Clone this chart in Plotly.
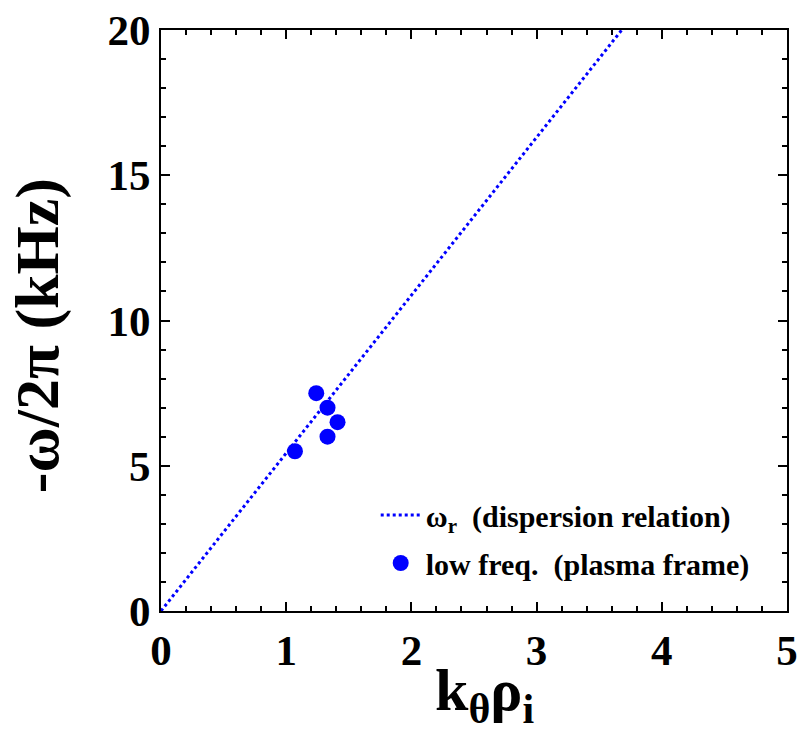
import numpy as np
import plotly.graph_objects as go

# Measured low-frequency mode in the plasma frame
k_rho = [1.07, 1.24, 1.33, 1.41, 1.33]
freq_khz = [5.5, 7.5, 7.0, 6.5, 6.0]

# Linear dispersion relation: omega_r/2pi vs k_theta rho_i
disp_k = [0.0, 3.68]
disp_f = [0.0, 20.0]

x_ticks = [0, 1, 2, 3, 4, 5]
y_ticks = [0, 5, 10, 15, 20]

FONT = "Liberation Serif"
BLUE = "#0000ff"

fig = go.Figure()
fig.add_trace(go.Scatter(
    x=disp_k, y=disp_f, mode="lines",
    line=dict(color=BLUE, width=3, dash="dot"),
    name="<b>ω<sub>r</sub>  (dispersion relation)</b>",
    legendgroup="a",
))
fig.add_trace(go.Scatter(
    x=k_rho, y=freq_khz, mode="markers",
    marker=dict(color=BLUE, size=16, line=dict(width=0)),
    name="<b>low freq.  (plasma frame)</b>",
    legendgroup="b",
))

axis_common = dict(
    showline=True, linecolor="black", linewidth=2, mirror="allticks",
    ticks="inside", ticklen=9, tickwidth=2, tickcolor="black",
    showgrid=False, zeroline=False, automargin=False,
    tickfont=dict(family=FONT, size=43, color="black"),
)

fig.update_xaxes(
    range=[0, 5], tickvals=x_ticks, ticktext=[f"<b>{v}</b>" for v in x_ticks],
    minor=dict(ticks="inside", ticklen=5, tickwidth=2, tickcolor="black", dtick=0.2, showgrid=False),
    **axis_common,
)
fig.update_yaxes(
    range=[0, 20], tickvals=y_ticks, ticktext=[f"<b>{v}</b>" for v in y_ticks],
    minor=dict(ticks="inside", ticklen=5, tickwidth=2, tickcolor="black", dtick=1, showgrid=False),
    **axis_common,
)

# axis titles as annotations for exact placement
fig.add_annotation(
    text="<b>k<sub>θ</sub>ρ<sub>i</sub></b>",
    xref="paper", yref="paper", x=0.517, y=-0.212,
    xanchor="center", yanchor="bottom", showarrow=False,
    font=dict(family=FONT, size=60, color="black"),
)
fig.add_annotation(
    text="<b>-ω/2π (kHz)</b>", textangle=-90,
    xref="paper", yref="paper", x=-0.198, y=0.473,
    xanchor="center", yanchor="middle", showarrow=False,
    font=dict(family=FONT, size=62, color="black"),
)

fig.update_layout(
    width=800, height=734,
    margin=dict(l=161, r=13, t=30, b=123),
    paper_bgcolor="white", plot_bgcolor="white",
    showlegend=True,
    legend=dict(
        x=0.343, y=0.21, xanchor="left", yanchor="top",
        bgcolor="rgba(0,0,0,0)", borderwidth=0,
        font=dict(family=FONT, size=30, color="black"),
        itemwidth=40, tracegroupgap=6,
    ),
)

fig.write_html("out.html")
